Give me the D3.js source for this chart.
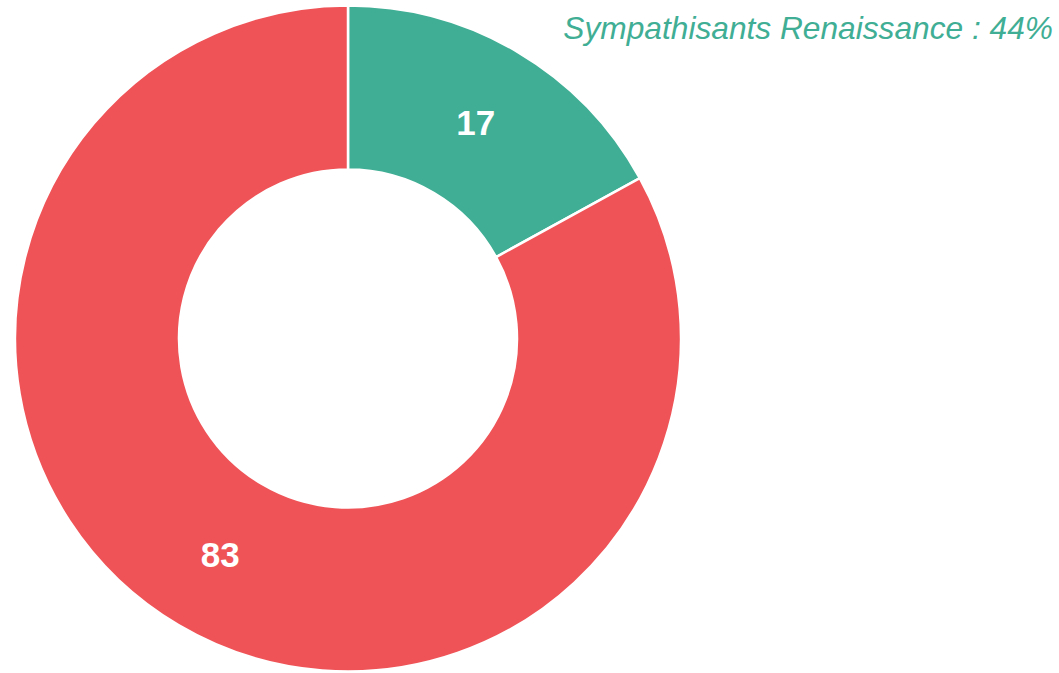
<!DOCTYPE html>
<html>
<head>
<meta charset="utf-8">
<script src="https://cdn.jsdelivr.net/npm/d3@7"></script>
<style>
  body { margin: 0; background: #fff; }
  svg { display: block; }
</style>
</head>
<body>
<script>
'use strict';

// data
const categories = ["Renaissance", "Autres"];
const values = [17, 83];
const colors = ["#3fae94", "#ef5357"];
const title = "Sympathisants Renaissance : 44%";

const width = 1059, height = 673;
const cx = 348, cy = 338.5;
const outerR = 333, innerR = 169;

const svg = d3.select("body").append("svg")
  .attr("width", width)
  .attr("height", height);

const pie = d3.pie().sort(null).value(d => d);
const arc = d3.arc().innerRadius(innerR).outerRadius(outerR);

const g = svg.append("g")
  .attr("transform", "translate(" + cx + "," + cy + ")");

const arcs = pie(values);

g.selectAll("path")
  .data(arcs)
  .enter()
  .append("path")
  .attr("d", arc)
  .attr("fill", (d, i) => colors[i])
  .attr("stroke", "#fff")
  .attr("stroke-width", 2.5);

// value labels in the middle of each slice
g.selectAll("text.label")
  .data(arcs)
  .enter()
  .append("text")
  .attr("class", "label")
  .attr("transform", d => "translate(" + arc.centroid(d) + ")")
  .attr("text-anchor", "middle")
  .attr("dy", "0.36em")
  .style("font-family", "'Liberation Sans', Arial, sans-serif")
  .style("font-weight", "bold")
  .style("font-size", "35px")
  .style("fill", "#fff")
  .text(d => d.data);

// title in top right corner
svg.append("text")
  .attr("x", 1053)
  .attr("y", 39)
  .attr("text-anchor", "end")
  .style("font-family", "'Liberation Sans', Arial, sans-serif")
  .style("font-style", "italic")
  .style("font-size", "31.7px")
  .style("fill", colors[0])
  .text(title);
</script>
</body>
</html>
